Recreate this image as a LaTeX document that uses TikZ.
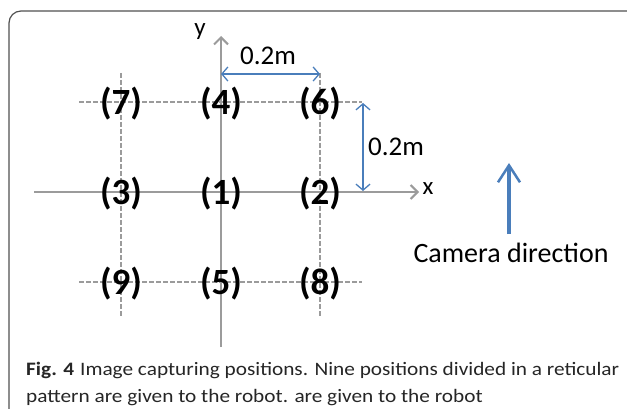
\documentclass[tikz,border=0pt]{standalone}
\usepackage{fontspec}
\setmainfont{Carlito}
\newfontfamily\capfont[FakeStretch=1.12]{Carlito}
\usetikzlibrary{arrows.meta}
\definecolor{axisgray}{RGB}{155,155,155}
\definecolor{dashgray}{RGB}{155,155,155}
\definecolor{dimblue}{RGB}{74,126,187}
\definecolor{framegray}{RGB}{80,80,80}
\begin{document}
\begin{tikzpicture}[x=1pt,y=-1pt,
  posl/.style={font=\bfseries\fontsize{37}{37}\selectfont, inner sep=0pt},
  axisline/.style={draw=axisgray, line width=2pt, -{Straight Barb[length=7pt,width=14pt,line width=2pt]}},
  gridline/.style={draw=dashgray, line width=1.3pt, dash pattern=on 5pt off 2pt},
  dimline/.style={draw=dimblue, line width=1.3pt, {Straight Barb[length=6pt,width=14pt]}-{Straight Barb[length=6pt,width=14pt]}},
  dimlabel/.style={font=\fontsize{27}{27}\selectfont, inner sep=0pt},
  axlabel/.style={font=\fontsize{25}{25}\selectfont, inner sep=0pt},
  camarrow/.style={draw=dimblue, line width=4pt, -{Straight Barb[length=17pt,width=22pt,line width=2.5pt]}},
  captext/.style={font=\capfont\fontsize{19}{19}\selectfont, inner sep=0pt, anchor=base west, text=black!85}
]
\useasboundingbox (0,0) rectangle (627,409);
\fill[white] (0,0) rectangle (627,409);
% frame
\draw[framegray, line width=1.2pt, rounded corners=12pt] (9,420) -- (9,11) -- (640,11);
% grid coordinates
\coordinate (vlt) at (121,73);  \coordinate (vlb) at (121,317);
\coordinate (vrt) at (320,73);  \coordinate (vrb) at (320,317);
\coordinate (htl) at (79,102);  \coordinate (htr) at (362,102);
\coordinate (hbl) at (79,282);  \coordinate (hbr) at (362,282);
\coordinate (xs) at (34,192);   \coordinate (xe) at (419,192);
\coordinate (ys) at (221,347);  \coordinate (ye) at (221,36);
% dashed grid
\draw[gridline] (vlt) -- (vlb);
\draw[gridline] (vrt) -- (vrb);
\draw[gridline] (htl) -- (htr);
\draw[gridline] (hbl) -- (hbr);
% axes
\draw[axisline] (xs) -- (xe);
\draw[axisline] (ys) -- (ye);
\node[axlabel] (xl) at (428,189) {x};
\node[axlabel] (yl) at (200,32) {y};
% positions
\node[posl] (p1) at (221,194) {(1)};
\node[posl] (p2) at (320,194) {(2)};
\node[posl] (p3) at (121,194) {(3)};
\node[posl] (p4) at (221,104) {(4)};
\node[posl] (p5) at (221,284) {(5)};
\node[posl] (p6) at (320,104) {(6)};
\node[posl] (p7) at (121,104) {(7)};
\node[posl] (p8) at (320,284) {(8)};
\node[posl] (p9) at (121,284) {(9)};
% dimensions
\coordinate (dha) at (221,74); \coordinate (dhb) at (320,74);
\draw[dimline] (dha) -- (dhb);
\node[dimlabel] (dhl) at (268,56) {0.2m};
\coordinate (dva) at (363,103); \coordinate (dvb) at (363,191);
\draw[dimline] (dva) -- (dvb);
\node[dimlabel, anchor=west] (dvl) at (368,147) {0.2m};
% camera direction
\coordinate (cs) at (509,234); \coordinate (ce) at (509,163);
\draw[camarrow] (cs) -- (ce);
\node[font=\fontsize{28}{28}\selectfont, inner sep=0pt] (cam) at (511,253) {Camera direction};
% caption
\node[captext] (cap1) at (26,375) {\textbf{Fig. 4}\hspace{6pt}Image capturing positions. Nine positions divided in a reticular};
\node[captext] (cap2) at (26,402) {pattern are given to the robot. are given to the robot};
\end{tikzpicture}
\end{document}
